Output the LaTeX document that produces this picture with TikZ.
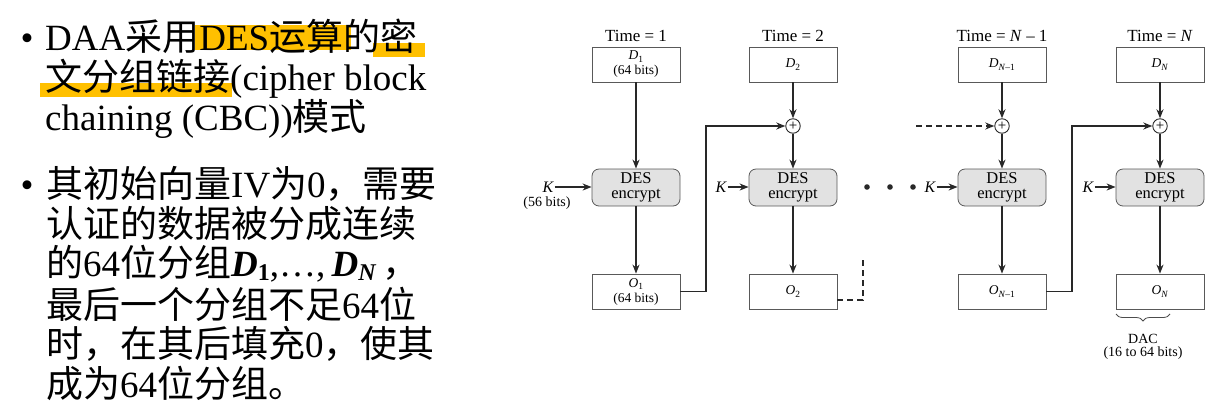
\documentclass[tikz,border=0pt]{standalone}
\usepackage{fontspec}
\setmainfont{Liberation Serif}
\newfontfamily\cjk{Noto Sans CJK SC}
\usetikzlibrary{arrows.meta,decorations.pathreplacing}
\definecolor{hl}{RGB}{255,192,0}
\definecolor{desfill}{RGB}{226,226,226}
\definecolor{ink}{RGB}{40,40,40}
\newcommand{\zh}[1]{{\cjk #1}}
\newcommand{\mv}[1]{\textbf{\textit{#1}}}
\newcommand{\msub}[1]{\raisebox{-0.12em}{\fontsize{24}{24}\selectfont #1}}
\tikzset{
  txt/.style={anchor=base west, inner sep=0pt, font=\fontsize{37}{40}\selectfont},
  bul/.style={anchor=base, inner sep=0pt, font=\fontsize{37}{40}\selectfont},
  timelbl/.style={inner sep=0pt, font=\fontsize{17}{18}\selectfont},
  lbl/.style={inner sep=0pt, font=\fontsize{14}{16}\selectfont},
  klbl/.style={inner sep=1pt, font=\fontsize{16}{16}\selectfont\itshape},
  dbox/.style={draw=black!65, line width=0.8pt, minimum width=88pt, minimum height=35pt,
     inner sep=0pt, align=center, font=\fontsize{13.5}{15}\selectfont},
  desbox/.style={draw=black!65, line width=0.8pt, rounded corners=7pt, fill=desfill,
     minimum width=88pt, minimum height=37pt, inner sep=0pt, align=center,
     font=\fontsize{16.5}{15.5}\selectfont},
  xorc/.style={circle, draw=ink, line width=0.9pt, minimum size=14.5pt, inner sep=0pt,
     font=\fontsize{15}{15}\selectfont},
  ln/.style={line width=1.8pt, draw=ink},
  arr/.style={ln, -{Stealth[length=9pt,width=7pt]}},
  dsh/.style={dash pattern=on 6pt off 4pt}
}
\begin{document}
\begin{tikzpicture}[x=1pt,y=-1pt]
\useasboundingbox (0,0) rectangle (1216,416);
% ---------- highlights ----------
\fill[hl] (195,25) rectangle (351,50);
\fill[hl] (373,43) rectangle (425,57);
\fill[hl] (40,83) rectangle (232,97);
% ---------- left text ----------
\node[bul] (b1) at (27,50) {•};
\node[txt] (l1) at (45,50) {DAA\zh{采用}DES\zh{运算的密}};
\node[txt] (l2) at (45,90) {\zh{文分组链接}(cipher block};
\node[txt] (l3) at (45,130) {chaining (CBC))\zh{模式}};
\node[bul] (b2) at (27,197) {•};
\node[txt] (m1) at (46,197) {\zh{其初始向量}IV\zh{为}0\zh{，需要}};
\node[txt] (m2) at (46,237) {\zh{认证的数据被分成连续}};
\node[txt] (m3) at (46,276) {\zh{的}64\zh{位分组}\mv{D}\msub{\textbf{1}},…,\,\mv{D}\msub{\mv{N}}\,\zh{，}};
\node[txt] (m4) at (46,318) {\zh{最后一个分组不足}64\zh{位}};
\node[txt] (m5) at (46,357) {\zh{时，在其后填充}0\zh{，使其}};
\node[txt] (m6) at (46,397) {\zh{成为}64\zh{位分组。}};
% ---------- column 1 ----------
\node[timelbl] (t1) at (636,36) {Time = 1};
\node[dbox] (d1) at (636,64.5) {\textit{D}\textsubscript{1}\\(64 bits)};
\node[desbox] (e1) at (636,187.5) {DES\\encrypt};
\node[dbox] (o1) at (636,291.5) {\textit{O}\textsubscript{1}\\(64 bits)};
\node[klbl] (k1) at (548,187) {K};
\node[lbl] (k1b) at (547,203) {(56 bits)};
\draw[arr] (d1) -- (e1);
\draw[arr] (e1) -- (o1);
\draw[arr] (k1.east) -- (k1.east -| e1.west);
% ---------- column 2 ----------
\node[timelbl] (t2) at (793,36) {Time = 2};
\node[dbox] (d2) at (793,64.5) {\textit{D}\textsubscript{2}};
\node[xorc] (x2) at (793,126) {+};
\node[desbox] (e2) at (793,187.5) {DES\\encrypt};
\node[dbox] (o2) at (793,291.5) {\textit{O}\textsubscript{2}};
\node[klbl] (k2) at (721,187) {K};
\draw[arr] (d2) -- (x2);
\draw[arr] (x2) -- (e2);
\draw[arr] (e2) -- (o2);
\draw[arr] (k2.east) -- (k2.east -| e2.west);
\coordinate (f1) at (706,291.5);
\draw[arr] (o1.east) -- (f1) |- (x2.west);
\coordinate (g1) at (863,300);
\coordinate (g2) at (863,258);
\draw[ln,dsh] ([yshift=-8.5pt]o2.east) -- (g1) -- (g2);
% dots
\fill[ink] (867,187) circle (2.8);
\fill[ink] (890,187) circle (2.8);
\fill[ink] (913,187) circle (2.8);
% ---------- column N-1 ----------
\node[timelbl] (t3) at (1002,36) {Time = \textit{N} – 1};
\node[dbox] (d3) at (1002,64.5) {\textit{D}\textsubscript{\textit{N}–1}};
\node[xorc] (x3) at (1002,126) {+};
\node[desbox] (e3) at (1002,187.5) {DES\\encrypt};
\node[dbox] (o3) at (1002,291.5) {\textit{O}\textsubscript{\textit{N}–1}};
\node[klbl] (k3) at (930,187) {K};
\draw[arr] (d3) -- (x3);
\draw[arr] (x3) -- (e3);
\draw[arr] (e3) -- (o3);
\draw[arr] (k3.east) -- (k3.east -| e3.west);
\coordinate (h1) at (916,126);
\draw[arr,dsh] (h1) -- (x3.west);
% ---------- column N ----------
\node[timelbl] (t4) at (1160,36) {Time = \textit{N}};
\node[dbox] (d4) at (1160,64.5) {\textit{D}\textsubscript{\textit{N}}};
\node[xorc] (x4) at (1160,126) {+};
\node[desbox] (e4) at (1160,187.5) {DES\\encrypt};
\node[dbox] (o4) at (1160,291.5) {\textit{O}\textsubscript{\textit{N}}};
\node[klbl] (k4) at (1088,187) {K};
\draw[arr] (d4) -- (x4);
\draw[arr] (x4) -- (e4);
\draw[arr] (e4) -- (o4);
\draw[arr] (k4.east) -- (k4.east -| e4.west);
\coordinate (f3) at (1072,291.5);
\draw[arr] (o3.east) -- (f3) |- (x4.west);
% DAC brace
\coordinate (br1) at (1116,314);
\coordinate (br2) at (1170,314);
\draw[draw=black!70, line width=0.8pt, decorate, decoration={brace, mirror, amplitude=7pt}] (br1) -- (br2);
\node[lbl] (dac) at (1143,339) {DAC};
\node[lbl] (dac2) at (1143,353) {(16 to 64 bits)};
\end{tikzpicture}
\end{document}
